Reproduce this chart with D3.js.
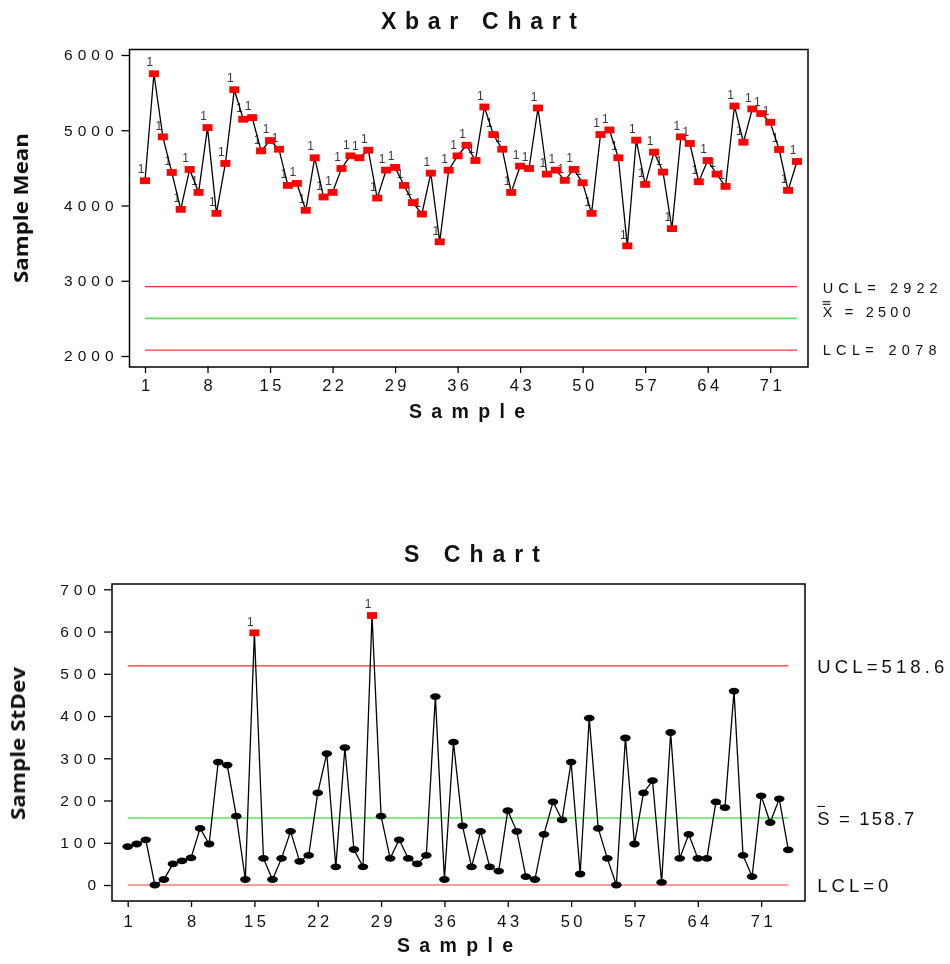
<!DOCTYPE html>
<html><head><meta charset="utf-8">
<script src="https://cdn.jsdelivr.net/npm/d3@7/dist/d3.min.js"></script>
<style>body{margin:0;background:#fff}</style>
</head><body>
<svg id="chart" width="950" height="964"></svg>
<script>
// ---------------- data ----------------
const samples = d3.range(1, 75);
const xbarValues = [4329,5751,4912,4439,3949,4479,4174,5035,3896,4559,
  5539,5146,5168,4726,4863,4748,4267,4294,3936,4634,
  4113,4174,4492,4660,4634,4735,4099,4470,4506,4267,
  4038,3887,4430,3517,4470,4660,4801,4598,5309,4943,
  4748,4174,4523,4492,5296,4417,4470,4334,4479,4302,
  3896,4943,5004,4634,3464,4868,4281,4709,4444,3693,
  4912,4824,4316,4598,4417,4254,5322,4841,5283,5221,
  5106,4744,4201,4585];
const sValues = [91,97,107,0,13,50,57,64,134,97,
  291,284,163,13,597,63,13,63,127,56,
  70,218,311,43,325,84,43,638,163,63,
  107,63,50,70,446,13,338,140,43,127,
  43,33,176,127,20,13,120,197,154,291,
  26,395,134,63,0,348,97,218,247,6,
  361,63,120,63,63,197,183,459,70,20,
  211,148,204,83];
const xbarFlagged = samples.slice();          // every mean is flagged (test 1)
const sFlagged = [15, 28];
const xTickLabels = [1,8,15,22,29,36,43,50,57,64,71];
const xbarTicks = [2000,3000,4000,5000,6000];
const sTicks = [0,100,200,300,400,500,600,700];
const xbarLimitValues = [2922, 2500, 2078];
const xbarLimitLabels = ["UCL= 2922", "X = 2500", "LCL= 2078"];
const sLimitValues = [518.6, 158.7, 0];
const sLimitLabels = ["UCL=518.6", "S = 158.7", "LCL=0"];
const limitColors = ["#ff2a2a", "#5de35d", "#ff3b3b"];

// ---------------- drawing ----------------
const svg = d3.select("#chart");
const root = svg.append("g").attr("opacity", 0.999);
const tickFont = "'Liberation Sans', Arial, sans-serif";

function drawChart(o) {
  const g = root.append("g");
  const x = d3.scaleLinear().domain([1, 74]).range([o.x1, o.x74]);
  const y = d3.scaleLinear().domain(o.yDomain).range(o.yRange);

  o.limits.forEach((v, i) => {
    g.append("line").attr("x1", x(1)).attr("x2", x(74))
      .attr("y1", y(v)).attr("y2", y(v))
      .attr("stroke", limitColors[i]).attr("stroke-width", i === 1 ? 1.6 : 1.2);
  });

  g.append("rect").attr("x", o.frame[0]).attr("y", o.frame[1])
    .attr("width", o.frame[2] - o.frame[0]).attr("height", o.frame[3] - o.frame[1])
    .attr("fill", "none").attr("stroke", "#000").attr("stroke-width", 1.5);

  const ya = g.append("g").attr("transform", `translate(${o.frame[0]},0)`)
    .call(d3.axisLeft(y).tickValues(o.yTicks).tickSize(8).tickPadding(3).tickFormat(d3.format("d")));
  ya.select(".domain").remove();
  ya.selectAll("line").attr("stroke", "#000").attr("stroke-width", 1.3);
  ya.selectAll("text").attr("font-family", tickFont).attr("font-size", 15.5)
    .attr("letter-spacing", 5).attr("fill", "#111");

  const xa = g.append("g").attr("transform", `translate(0,${o.frame[3]})`)
    .call(d3.axisBottom(x).tickValues(xTickLabels).tickSize(6).tickPadding(o.xPad).tickFormat(d3.format("d")));
  xa.select(".domain").remove();
  xa.selectAll("line").attr("stroke", "#000").attr("stroke-width", 1.3);
  xa.selectAll("text").attr("font-family", tickFont).attr("font-size", 16.5)
    .attr("letter-spacing", 3.5).attr("dx", 1.75).attr("fill", "#111");

  g.selectAll(".flag").data(samples.filter(s => o.flagged.includes(s)))
    .join("text").attr("class", "flag")
    .attr("x", s => x(s) - 4).attr("y", s => y(o.values[s - 1]) - 7.3)
    .attr("text-anchor", "middle").attr("font-family", tickFont)
    .attr("font-size", 12).attr("fill", "#3a3a3a").text("1");

  g.append("path").datum(samples)
    .attr("d", d3.line().x(s => x(s)).y(s => y(o.values[s - 1])))
    .attr("fill", "none").attr("stroke", "#000").attr("stroke-width", 1.3);

  samples.forEach(s => {
    const cx = x(s), cy = y(o.values[s - 1]);
    if (o.flagged.includes(s)) {
      g.append("rect").attr("x", cx - 5).attr("y", cy - 3.4).attr("width", 10).attr("height", 6.8)
        .attr("fill", "#ff0000");
    } else {
      g.append("ellipse").attr("cx", cx).attr("cy", cy).attr("rx", 5.3).attr("ry", 3.4)
        .attr("fill", "#000");
    }
  });

  o.limitLabels.forEach((t, i) => {
    g.append("text").attr("x", o.labelX).attr("y", y(o.limits[i]) + o.labelDy[i])
      .attr("font-family", tickFont).attr("font-size", o.labelSize)
      .attr("textLength", o.labelLen[i]).attr("lengthAdjust", "spacing")
      .attr("fill", "#111").text(t);
  });
  o.bars.forEach(b => {
    g.append("line").attr("x1", o.labelX).attr("x2", o.labelX + b[1])
      .attr("y1", y(o.limits[1]) + b[0]).attr("y2", y(o.limits[1]) + b[0])
      .attr("stroke", "#111").attr("stroke-width", 1.1);
  });

  g.append("text").attr("x", o.titleX).attr("y", o.titleY).attr("text-anchor", "middle")
    .attr("font-family", "'Liberation Sans Narrow', 'Liberation Sans', Arial, sans-serif")
    .attr("font-weight", "bold").attr("font-size", 23)
    .attr("textLength", o.titleLen).attr("lengthAdjust", "spacing").attr("fill", "#111").text(o.title);
  g.append("text").attr("x", o.xTitleX).attr("y", o.xTitleY).attr("text-anchor", "middle")
    .attr("font-family", tickFont).attr("font-weight", "bold").attr("font-size", 19.5)
    .attr("textLength", 116).attr("lengthAdjust", "spacing").attr("fill", "#111").text("Sample");
  g.append("text").attr("transform", `translate(${o.yTitle[0]},${o.yTitle[1]}) rotate(-90)`)
    .attr("text-anchor", "middle").attr("font-family", "'Open Sans', 'DejaVu Sans', sans-serif")
    .attr("font-weight", "bold").attr("font-size", 20)
    .attr("textLength", o.yTitleLen).attr("lengthAdjust", "spacingAndGlyphs").attr("fill", "#111").text(o.yTitleText);
}

drawChart({
  values: xbarValues, flagged: xbarFlagged,
  x1: 145, x74: 797, yDomain: [2000, 6000], yRange: [356, 55],
  frame: [129.5, 49.5, 808, 367], yTicks: xbarTicks, xPad: 6,
  limits: xbarLimitValues, limitLabels: xbarLimitLabels,
  labelX: 822.7, labelSize: 14.5, labelLen: [115, 88, 114], labelDy: [6.7, -1.7, 5],
  bars: [[-16.7, 7.5], [-14.1, 7.5]],
  title: "Xbar Chart", titleX: 479, titleY: 29, titleLen: 196,
  xTitleX: 467, xTitleY: 418, yTitle: [28, 208], yTitleLen: 150, yTitleText: "Sample Mean"
});

drawChart({
  values: sValues, flagged: sFlagged,
  x1: 127.7, x74: 788.3, yDomain: [0, 700], yRange: [885, 589.3],
  frame: [112, 584, 805, 901], yTicks: sTicks, xPad: 8,
  limits: sLimitValues, limitLabels: sLimitLabels,
  labelX: 817.3, labelSize: 18.5, labelLen: [127, 97, 71], labelDy: [6.6, 7.2, 6.6],
  bars: [[-11.5, 7.7]],
  title: "S Chart", titleX: 472, titleY: 562, titleLen: 136,
  xTitleX: 455, xTitleY: 952, yTitle: [25, 743.5], yTitleLen: 153, yTitleText: "Sample StDev"
});
</script>
</body></html>
